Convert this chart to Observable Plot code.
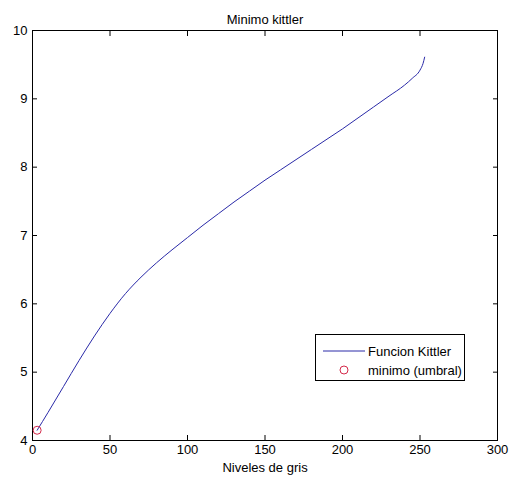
<!DOCTYPE html>
<html>
<head>
<meta charset="utf-8">
<script src="https://cdn.jsdelivr.net/npm/d3@7"></script>
<script src="https://cdn.jsdelivr.net/npm/@observablehq/plot@0.6"></script>
<style>
  html, body { margin: 0; padding: 0; background: white; }
  #wrap { position: relative; width: 512px; height: 483px; }
  #legend { position: absolute; left: 315px; top: 334px; width: 150px; height: 47px; box-sizing: border-box;
    border: 1px solid black; background: white; font-family: "Liberation Sans", Arial, sans-serif; font-size: 13px; }
  #legend .row { position: absolute; left: 0; height: 18px; display: flex; align-items: center; }
  #legend svg { display: block; }
</style>
</head>
<body>
<div id="wrap"></div>
<script>
// Data
const grayLevels = [3, 10, 20, 30, 40, 50, 60, 70, 80, 90, 100, 110, 120, 130, 140, 150, 160, 170, 180, 190, 200, 210, 220, 230, 240, 245, 250, 252, 253];
const kittlerValues = [4.15, 4.41, 4.79, 5.17, 5.53, 5.86, 6.15, 6.39, 6.6, 6.79, 6.97, 7.15, 7.32, 7.49, 7.65, 7.81, 7.96, 8.11, 8.26, 8.41, 8.56, 8.72, 8.88, 9.04, 9.2, 9.3, 9.42, 9.52, 9.61];
const minimoX = [3];
const minimoY = [4.15];
const xTicks = [0, 50, 100, 150, 200, 250, 300];
const yTicks = [4, 5, 6, 7, 8, 9, 10];
const seriesNames = ["Funcion Kittler", "minimo (umbral)"];
const titleText = "Minimo kittler";
const xLabelText = "Niveles de gris";

const lineColor = "#2a2aa8";
const dotColor = "#d42a4a";

const curve = grayLevels.map((x, i) => ({x, y: kittlerValues[i]}));
const minimo = minimoX.map((x, i) => ({x, y: minimoY[i]}));

const chart = Plot.plot({
  width: 512,
  height: 483,
  marginLeft: 32,
  marginRight: 15,
  marginTop: 30,
  marginBottom: 43,
  style: {fontFamily: "'Liberation Sans', Arial, sans-serif", fontSize: "13px", background: "white", color: "black"},
  x: {domain: [0, 300]},
  y: {domain: [4, 10]},
  marks: [
    Plot.axisX(xTicks, {tickSize: 0, tickPadding: 4, label: null, tickFormat: d => String(d)}),
    Plot.axisX(xTicks, {tickSize: -5, fill: "none", label: null}),
    Plot.axisX(xTicks, {anchor: "top", tickSize: -5, fill: "none", label: null}),
    Plot.axisY(yTicks, {tickSize: 0, tickPadding: 5, label: null, tickFormat: d => String(d)}),
    Plot.axisY(yTicks, {tickSize: -5, fill: "none", label: null}),
    Plot.axisY(yTicks, {anchor: "right", tickSize: -5, fill: "none", label: null}),
    Plot.frame({stroke: "black"}),
    Plot.line(curve, {x: "x", y: "y", stroke: lineColor, strokeWidth: 1, curve: "monotone-x"}),
    Plot.dot(minimo, {x: "x", y: "y", r: 4, stroke: dotColor, strokeWidth: 1}),
    Plot.text([titleText], {text: d => d, frameAnchor: "top", dy: -16, fontSize: 13}),
    Plot.text([xLabelText], {text: d => d, frameAnchor: "bottom", dy: 31, fontSize: 13})
  ]
});

const wrap = document.getElementById("wrap");
wrap.appendChild(chart);

const legend = document.createElement("div");
legend.id = "legend";
legend.innerHTML = `
  <div class="row" style="top:7px;left:6px">
    <svg width="44" height="10"><line x1="1" y1="5" x2="43" y2="5" stroke="${lineColor}" stroke-width="1"/></svg>
    <span style="margin-left:2px">${seriesNames[0]}</span>
  </div>
  <div class="row" style="top:26px;left:6px">
    <svg width="44" height="10"><circle cx="22" cy="5" r="4" fill="none" stroke="${dotColor}" stroke-width="1"/></svg>
    <span style="margin-left:2px">${seriesNames[1]}</span>
  </div>`;
wrap.appendChild(legend);
</script>
</body>
</html>
